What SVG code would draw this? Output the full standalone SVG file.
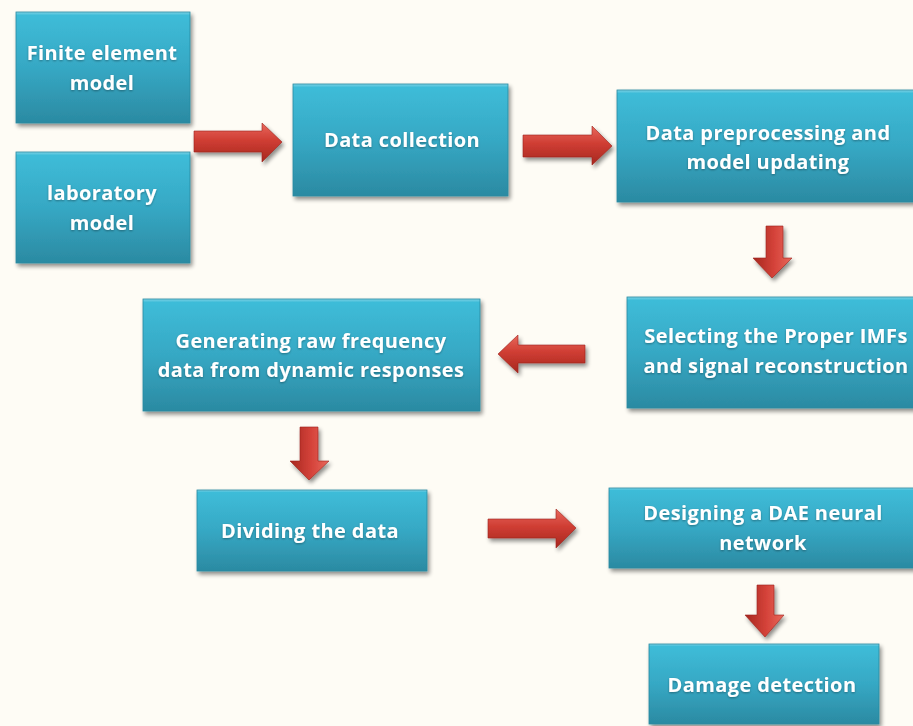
<svg xmlns="http://www.w3.org/2000/svg" width="913" height="726" viewBox="0 0 913 726">
<defs>
<linearGradient id="boxg" x1="0" y1="0" x2="0" y2="1">
<stop offset="0" stop-color="#7FD3E6"/>
<stop offset="0.03" stop-color="#3EBCD8"/>
<stop offset="0.5" stop-color="#36A8C4"/>
<stop offset="1" stop-color="#2B8AA2"/>
</linearGradient>
<linearGradient id="arrh" x1="0" y1="0" x2="0" y2="1">
<stop offset="0" stop-color="#E8685C"/>
<stop offset="0.45" stop-color="#CF3D33"/>
<stop offset="1" stop-color="#A6271F"/>
</linearGradient>
<linearGradient id="arrv" x1="0" y1="0" x2="1" y2="0">
<stop offset="0" stop-color="#A6271F"/>
<stop offset="0.55" stop-color="#D5433A"/>
<stop offset="1" stop-color="#E8685C"/>
</linearGradient>
<filter id="sh" x="-10%" y="-10%" width="125%" height="130%">
<feGaussianBlur in="SourceAlpha" stdDeviation="2"/>
<feOffset dx="2" dy="3"/>
<feComponentTransfer><feFuncA type="linear" slope="0.45"/></feComponentTransfer>
<feMerge><feMergeNode/><feMergeNode in="SourceGraphic"/></feMerge>
</filter>
<filter id="tsh" x="-10%" y="-30%" width="120%" height="160%">
<feGaussianBlur in="SourceAlpha" stdDeviation="1"/>
<feOffset dx="0" dy="1"/>
<feComponentTransfer><feFuncA type="linear" slope="0.35"/></feComponentTransfer>
<feMerge><feMergeNode/><feMergeNode in="SourceGraphic"/></feMerge>
</filter>
</defs>
<style>
.box{fill:url(#boxg);stroke:#2A8AA0;stroke-width:0.8;filter:url(#sh)}
.t{font-family:"Open Sans","Liberation Sans",sans-serif;font-weight:bold;font-size:20px;letter-spacing:0.4px;fill:#FFFFFF;text-anchor:middle;filter:url(#tsh)}
.ah{fill:url(#arrh);stroke:#9A241D;stroke-width:0.6;filter:url(#sh)}
.av{fill:url(#arrv);stroke:#9A241D;stroke-width:0.6;filter:url(#sh)}
</style>
<rect x="0" y="0" width="913" height="726" fill="#FEFCF5"/>

<g id="n-fem"><rect class="box" x="16" y="12" width="174" height="111"/><text class="t" x="102" y="60">Finite element</text><text class="t" x="102" y="90">model</text></g>
<g id="n-lab"><rect class="box" x="16" y="152" width="174" height="111"/><text class="t" x="102" y="200">laboratory</text><text class="t" x="102" y="230">model</text></g>
<g id="n-collect"><rect class="box" x="293" y="84" width="215" height="112"/><text class="t" x="402" y="147">Data collection</text></g>
<g id="n-preproc"><rect class="box" x="617" y="90" width="302" height="112"/><text class="t" x="768" y="140">Data preprocessing and</text><text class="t" x="768" y="169">model updating</text></g>
<g id="n-select"><rect class="box" x="627" y="297" width="300" height="111"/><text class="t" x="776" y="343">Selecting the Proper IMFs</text><text class="t" x="776" y="373">and signal reconstruction</text></g>
<g id="n-generate"><rect class="box" x="143" y="299" width="337" height="112"/><text class="t" x="311" y="348">Generating raw frequency</text><text class="t" x="311" y="377">data from dynamic responses</text></g>
<g id="n-divide"><rect class="box" x="197" y="490" width="230" height="81"/><text class="t" x="310" y="538">Dividing the data</text></g>
<g id="n-design"><rect class="box" x="609" y="488" width="310" height="80"/><text class="t" x="763" y="520">Designing a DAE neural</text><text class="t" x="763" y="550">network</text></g>
<g id="n-damage"><rect class="box" x="649" y="644" width="230" height="80"/><text class="t" x="762" y="692">Damage detection</text></g>

<g id="connectors">
<polygon class="ah" points="194,131 262,131 262,123 282,142 262,162 262,152 194,152"/>
<polygon class="ah" points="523,135 592,135 592,126 612,146 592,165 592,157 523,157"/>
<polygon class="av" points="766,226 783,226 783,258 792,258 772,278 753,258 766,258"/>
<polygon class="ah" points="585,345 518,345 518,335 498,354 518,373 518,363 585,363"/>
<polygon class="av" points="300,427 318,427 318,461 329,461 309,480 290,461 300,461"/>
<polygon class="ah" points="488,519 556,519 556,509 576,528 556,548 556,538 488,538"/>
<polygon class="av" points="757,585 774,585 774,615 784,615 765,637 745,615 757,615"/>
</g>
</svg>
